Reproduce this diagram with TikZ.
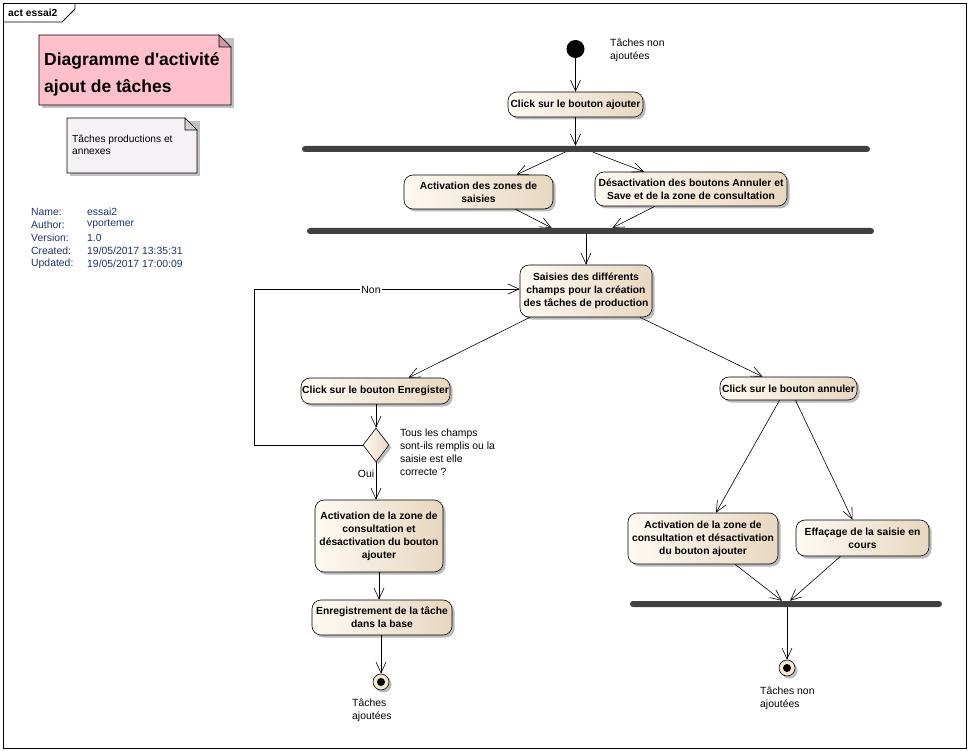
\documentclass[tikz,border=0pt]{standalone}
\usepackage{fontspec}
\setmainfont{Liberation Sans}[Ligatures=TeXOff]
\usetikzlibrary{arrows.meta,shapes.geometric,shadows}
\definecolor{actL}{RGB}{254,250,242}
\definecolor{actR}{RGB}{232,215,192}
\definecolor{barC}{RGB}{64,64,64}
\definecolor{pinkN}{RGB}{255,192,203}
\definecolor{pinkF}{RGB}{212,150,160}
\definecolor{noteC}{RGB}{246,241,245}
\definecolor{foldC}{RGB}{208,208,208}
\definecolor{infoC}{RGB}{30,50,110}
\begin{document}
\begin{tikzpicture}[x=1pt,y=-1pt,
  shad/.style={drop shadow={shadow xshift=2.5pt,shadow yshift=-2.5pt,fill=black!45,opacity=0.6}},
  action/.style={draw, line width=0.6pt, rounded corners=9pt, left color=actL, right color=actR, shad, align=center, inner sep=0pt, font=\bfseries\fontsize{10.3}{13}\selectfont},
  bar/.style={fill=barC, rounded corners=3pt, minimum height=6pt, inner sep=0pt},
  flow/.style={line width=0.6pt, -{Straight Barb[length=11pt,width=10pt]}},
  lbl/.style={font=\fontsize{10.4}{13}\selectfont, align=left, inner sep=0pt, anchor=west},
  info/.style={font=\fontsize{10.4}{13}\selectfont, inner sep=0pt, anchor=west, text=infoC},
]
\useasboundingbox (0,0) rectangle (969,751);
\fill[white] (0,0) rectangle (969,751);
% frame
\draw[line width=0.8pt] (3,3) rectangle (966,748);
\draw[line width=0.8pt] (3,22) -- (62,22) -- (75,9) -- (75,3);
\node[font=\bfseries\fontsize{10.3}{12}\selectfont, inner sep=0pt, anchor=west] (frm) at (8,12.5) {act essai2};

% title note
\fill[black!40, opacity=0.6] (42,38) -- (234,38) -- (234,108) -- (42,108) -- cycle;
\draw[line width=0.6pt, fill=pinkN] (39,35) -- (219,35) -- (231,47) -- (231,105) -- (39,105) -- cycle;
\draw[line width=0.6pt, fill=pinkF] (219,35) -- (231,47) -- (219,47) -- cycle;
\node[font=\bfseries\fontsize{17.5}{27}\selectfont, align=left, inner sep=0pt, anchor=west] (title) at (44,74) {Diagramme d'activité\\ajout de tâches};

% second note
\fill[black!40, opacity=0.6] (70,121) -- (200,121) -- (200,176) -- (70,176) -- cycle;
\draw[line width=0.6pt, fill=noteC] (67,118) -- (185,118) -- (197,130) -- (197,173) -- (67,173) -- cycle;
\draw[line width=0.6pt, fill=foldC] (185,118) -- (197,130) -- (185,130) -- cycle;
\node[lbl, font=\fontsize{10.2}{12.5}\selectfont] (note2) at (72,145) {Tâches productions et\\annexes};

% info
\node[info] (i1) at (31,211.5) {Name:};
\node[info] (i2) at (31,224.5) {Author:};
\node[info] (i3) at (31,237.5) {Version:};
\node[info] (i4) at (31,250.5) {Created:};
\node[info] (i5) at (31,263.5) {Updated:};
\node[info] (v1) at (87,211.5) {essai2};
\node[info] (v2) at (87,224.5) {vportemer};
\node[info] (v3) at (87,237.5) {1.0};
\node[info] (v4) at (87,250.5) {19/05/2017 13:35:31};
\node[info] (v5) at (87,263.5) {19/05/2017 17:00:09};

% nodes
\node[circle, fill=black, minimum size=18pt, inner sep=0pt] (init) at (575.5,49) {};
\node[lbl] (initl) at (610,50) {Tâches non\\ajoutées};

\node[action, minimum width=135pt, minimum height=25pt] (A1) at (575.5,104.5) {Click sur le bouton ajouter};
\node[bar, minimum width=568pt] (bar1) at (586,149) {};
\node[action, minimum width=149pt, minimum height=34pt] (A2) at (478.5,192) {Activation des zones de\\saisies};
\node[action, minimum width=192pt, minimum height=34pt] (A3) at (691,189) {Désactivation des boutons Annuler et\\Save et de la zone de consultation};
\node[bar, minimum width=567pt] (bar2) at (590.5,231) {};
\node[action, minimum width=132pt, minimum height=52pt] (A4) at (586,291) {Saisies des différents\\champs pour la création\\des tâches de production};
\node[action, minimum width=149pt, minimum height=26pt] (A5) at (375.5,391) {Click sur le bouton Enregister};
\node[action, minimum width=137pt, minimum height=23pt] (A6) at (788.5,388.5) {Click sur le bouton annuler};
\node[diamond, draw, line width=0.6pt, left color=actL, right color=actR, shad, minimum width=26pt, minimum height=34pt, inner sep=0pt] (D) at (376,445) {};
\node[lbl] (Dl) at (400,452) {Tous les champs\\sont-ils remplis ou la\\saisie est elle\\correcte ?};
\node[action, minimum width=128pt, minimum height=72pt] (A7) at (379,536) {Activation de la zone de\\consultation et\\désactivation du bouton\\ajouter};
\node[action, minimum width=140pt, minimum height=35pt] (A8) at (382,617.5) {Enregistrement de la tâche\\dans la base};
\node[circle, draw, line width=0.6pt, fill=actL!40!actR, shad, minimum size=16pt, inner sep=0pt] (F1) at (381,682) {};
\fill (F1.center) circle (4pt);
\node[lbl] (F1l) at (352,710) {Tâches\\ajoutées};

\node[action, minimum width=150pt, minimum height=51pt] (A9) at (703,538.5) {Activation de la zone de\\consultation et désactivation\\du bouton ajouter};
\node[action, minimum width=133pt, minimum height=36pt] (A10) at (862.5,538) {Effaçage de la saisie en\\cours};
\node[bar, minimum width=312pt] (bar3) at (786,604) {};
\node[circle, draw, line width=0.6pt, fill=actL!40!actR, shad, minimum size=16pt, inner sep=0pt] (F2) at (787,668) {};
\fill (F2.center) circle (4pt);
\node[lbl] (F2l) at (760,698) {Tâches non\\ajoutées};

% connectors
\draw[flow] (init.south) -- (A1.north);
\draw[flow] (A1.south) -- (A1.south |- bar1.north);
\draw[flow] ([xshift=-21pt]bar1.south) -- ([xshift=38pt]A2.north);
\draw[flow] ([xshift=7pt]bar1.south) -- ([xshift=-47pt]A3.north);
\draw[flow] ([xshift=37pt]A2.south) -- ([xshift=-39pt]bar2.north);
\draw[flow] ([xshift=-36pt]A3.south) -- ([xshift=22pt]bar2.north);
\draw[flow] (A4.north |- bar2.south) -- (A4.north);
\draw[flow] ([xshift=-56pt]A4.south) -- ([xshift=33pt]A5.north);
\draw[flow] ([xshift=54pt]A4.south) -- ([xshift=-26pt]A6.north);
\draw[flow] (D.north |- A5.south) -- (D.north);
\coordinate (nonc) at (254,289);
\draw[flow] (D.west) -- (D.west -| nonc) -- (nonc) -- (nonc -| A4.west);
\node[fill=white, inner sep=1pt, font=\fontsize{10.4}{12}\selectfont] (non) at (371,289.5) {Non};
\draw[flow] (D.south) -- (D.south |- A7.north);
\node[fill=white, inner sep=1pt, font=\fontsize{10.4}{12}\selectfont] (oui) at (366,473.5) {Oui};
\draw[flow] (A7.south) -- (A7.south |- A8.north);
\draw[flow] (F1.north |- A8.south) -- (F1.north);
\draw[flow] ([xshift=-9pt]A6.south) -- ([xshift=13pt]A9.north);
\draw[flow] ([xshift=7pt]A6.south) -- ([xshift=-10pt]A10.north);
\draw[flow] ([xshift=32pt]A9.south) -- ([xshift=-4pt]bar3.north);
\draw[flow] ([xshift=-22pt]A10.south) -- ([xshift=4pt]bar3.north);
\draw[flow] (F2.north |- bar3.south) -- (F2.north);
\end{tikzpicture}
\end{document}
